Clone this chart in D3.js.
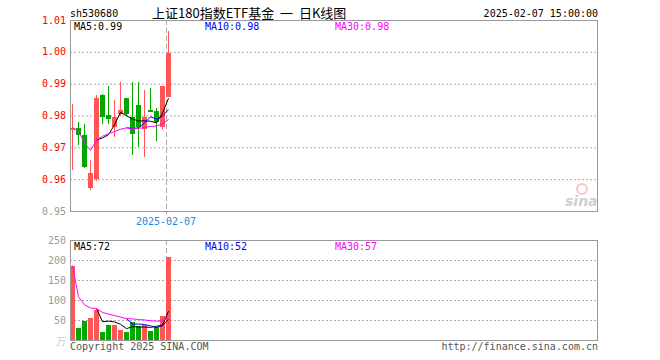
<!DOCTYPE html>
<html>
<head>
    <meta charset='utf-8'>
    <title>sh530680 日K线图</title>
    <script src="https://cdn.jsdelivr.net/npm/d3@7/dist/d3.min.js"></script>
    <style>
        body { margin: 0; background: #fff; }
        text { font-family: "DejaVu Sans Mono", monospace; font-size: 10px; white-space: pre; }
    </style>
</head>
<body>
    <script>
        // 17 trading days
        const dates = ["2025-01-08", "2025-01-09", "2025-01-10", "2025-01-13", "2025-01-14", "2025-01-15",
            "2025-01-16", "2025-01-17", "2025-01-20", "2025-01-21", "2025-01-22", "2025-01-23",
            "2025-01-24", "2025-01-27", "2025-02-05", "2025-02-06", "2025-02-07"];
        const openP = [0.9756, 0.9762, 0.9740, 0.9573, 0.9598, 0.9863, 0.9803, 0.9762, 0.9803,
            0.9854, 0.9794, 0.9832, 0.9756, 0.9816, 0.9813, 0.9762, 0.9857];
        const highP = [0.9835, 0.9781, 0.9772, 0.9661, 0.9863, 0.9866, 0.9892, 0.9850, 0.9904,
            0.9856, 0.9904, 0.9904, 0.9879, 0.9885, 0.9825, 0.9892, 1.0065];
        const lowP = [0.9630, 0.9708, 0.9636, 0.9566, 0.9595, 0.9772, 0.9772, 0.9731, 0.9800,
            0.9800, 0.9677, 0.9700, 0.9670, 0.9810, 0.9721, 0.9753, 0.9857];
        const closeP = [0.9762, 0.9740, 0.9639, 0.9620, 0.9854, 0.9794, 0.9791, 0.9794, 0.9816,
            0.9803, 0.9740, 0.9762, 0.9794, 0.9811, 0.9778, 0.9892, 0.9996];
        const volume = [186, 30, 48, 56, 74, 20, 38, 38, 26, 20, 44, 35, 37, 22, 33, 60, 208];

        const priceTicks = [1.01, 1.00, 0.99, 0.98, 0.97, 0.96, 0.95];
        const volTicks = [250, 200, 150, 100, 50];
        const markDate = "2025-02-07";

        const w = 660, h = 360;
        const left = 70, right = 598;
        const slots = 88;

        const red = "#ff5555", green = "#00a800";

        const svg = d3.select("body").append("svg")
            .attr("width", w)
            .attr("height", h);

        const x = d3.scaleBand()
            .domain(d3.range(slots))
            .range([left, right])
            .paddingInner(1 / 6)
            .align(0)
            .round(true);

        const yP = d3.scaleLinear().domain([0.95, 1.01]).range([211, 20]);
        const yV = d3.scaleLinear().domain([0, 250]).range([340, 240]);

        function ma(arr, n, partial) {
            return arr.map((v, i) => {
                if (i < n - 1 && !partial) return null;
                const s = arr.slice(Math.max(0, i - n + 1), i + 1);
                return d3.mean(s);
            });
        }

        const idx = d3.range(dates.length);
        const up = idx.map(i => closeP[i] >= openP[i]);
        const cx = i => x(i) + 2.5;

        // grids
        function grid(scale, vals) {
            svg.append("g")
                .attr("transform", "translate(" + left + ",0)")
                .call(d3.axisRight(scale).tickValues(vals).tickSize(right - left).tickFormat(""))
                .call(g => g.select(".domain").remove())
                .call(g => g.selectAll("line")
                    .attr("stroke", "#aaa")
                    .attr("stroke-dasharray", "2,2"));
        }
        grid(yP, priceTicks.slice(1, -1));
        grid(yV, volTicks.slice(1));

        // axis labels
        const fmtP = d3.format(".2f");
        svg.append("g").selectAll("text")
            .data(priceTicks).enter().append("text")
            .attr("x", 66).attr("y", d => yP(d))
            .attr("dy", "0.35em").attr("text-anchor", "end")
            .attr("fill", d => d > 0.955 ? "#ff0000" : "#999999")
            .text(d => fmtP(d));

        svg.append("g").selectAll("text")
            .data(volTicks).enter().append("text")
            .attr("x", 66).attr("y", d => yV(d))
            .attr("dy", "0.35em").attr("text-anchor", "end")
            .attr("fill", "#999999")
            .text(d => d);

        svg.append("text").attr("x", 66).attr("y", 345).attr("text-anchor", "end")
            .style("font-family", "Noto Sans CJK SC").style("font-size", "10px")
            .attr("fill", "#cccccc").text("万");

        // sina logo
        const logo = svg.append("g").attr("transform", "translate(565,183)");
        logo.append("circle").attr("cx", 17).attr("cy", 6).attr("r", 5)
            .attr("fill", "none").attr("stroke", "#f8c4c4").attr("stroke-width", 2);
        logo.append("text").attr("x", 0).attr("y", 23)
            .style("font-family", "DejaVu Sans").style("font-size", "14px")
            .style("font-style", "italic").style("font-weight", "bold")
            .attr("fill", "#d0d0d0").text("sina");

        // dashed marker
        const mi = dates.indexOf(markDate);
        [[20, 211], [240, 340]].forEach(r => {
            svg.append("line")
                .attr("x1", x(mi) + 0.5).attr("x2", x(mi) + 0.5)
                .attr("y1", r[0]).attr("y2", r[1])
                .attr("stroke", "#aaa").attr("stroke-dasharray", "5,3");
        });
        svg.append("line")
            .attr("x1", x(mi) + 0.5).attr("x2", x(mi) + 0.5)
            .attr("y1", 211).attr("y2", 214).attr("stroke", "#999");
        svg.append("text").attr("x", x(mi)).attr("y", 225)
            .attr("text-anchor", "middle").attr("fill", "#1a8ad8").text(markDate);

        // candles
        const candles = svg.append("g");
        candles.selectAll("line")
            .data(idx).enter().append("line")
            .attr("x1", i => cx(i)).attr("x2", i => cx(i))
            .attr("y1", i => Math.round(yP(highP[i])))
            .attr("y2", i => Math.round(yP(lowP[i])))
            .attr("stroke", i => up[i] ? red : green);
        candles.selectAll("rect")
            .data(idx).enter().append("rect")
            .attr("shape-rendering", "crispEdges")
            .attr("x", i => x(i))
            .attr("width", x.bandwidth())
            .attr("y", i => Math.round(yP(Math.max(openP[i], closeP[i]))))
            .attr("height", i => Math.max(1, Math.round(Math.abs(yP(openP[i]) - yP(closeP[i])))))
            .attr("fill", i => up[i] ? red : green);

        // volume bars
        svg.append("g").selectAll("rect")
            .data(idx).enter().append("rect")
            .attr("shape-rendering", "crispEdges")
            .attr("x", i => x(i))
            .attr("width", x.bandwidth())
            .attr("y", i => Math.round(yV(volume[i])))
            .attr("height", i => 340 - Math.round(yV(volume[i])))
            .attr("fill", i => up[i] ? red : green);

        // moving averages
        const maDefs = [
            { n: 5, color: "#000000", partial: false, lx: 74 },
            { n: 10, color: "#0000ff", partial: false, lx: 205 },
            { n: 30, color: "#ff00ff", partial: true, lx: 335 }
        ];

        function drawMA(series, scale, fmt, labelY) {
            maDefs.forEach(m => {
                const vals = ma(series, m.n, m.partial);
                const line = d3.line()
                    .defined(d => d != null)
                    .x((d, i) => cx(i))
                    .y(d => scale(d));
                svg.append("path")
                    .datum(vals)
                    .attr("d", line)
                    .attr("fill", "none")
                    .attr("stroke", m.color)
                    .attr("stroke-width", 1);
                svg.append("text")
                    .attr("x", m.lx).attr("y", labelY)
                    .attr("fill", m.color)
                    .text("MA" + m.n + ":" + fmt(vals[vals.length - 1]));
            });
        }
        drawMA(closeP, yP, d3.format(".2f"), 30);
        drawMA(volume, yV, d3.format(".0f"), 250);

        // frames
        [[20, 211], [240, 340]].forEach(r => {
            svg.append("rect")
                .attr("x", left + 0.5).attr("y", r[0] + 0.5)
                .attr("width", 527).attr("height", r[1] - r[0])
                .attr("fill", "none").attr("stroke", "#999");
        });

        // header and footer
        svg.append("text").attr("x", 70).attr("y", 17).text("sh530680");
        svg.append("text").attr("x", 152).attr("y", 18)
            .style("font-family", "Noto Sans CJK SC").style("font-size", "13px")
            .text("上证180指数ETF基金  一  日K线图");
        svg.append("text").attr("x", 598).attr("y", 17).attr("text-anchor", "end")
            .text("2025-02-07 15:00:00");
        svg.append("text").attr("x", 70).attr("y", 350).attr("fill", "#555555")
            .text("Copyright 2025 SINA.COM");
        svg.append("text").attr("x", 598).attr("y", 350).attr("text-anchor", "end").attr("fill", "#555555")
            .text("http://finance.sina.com.cn");
    </script>
</body>
</html>
